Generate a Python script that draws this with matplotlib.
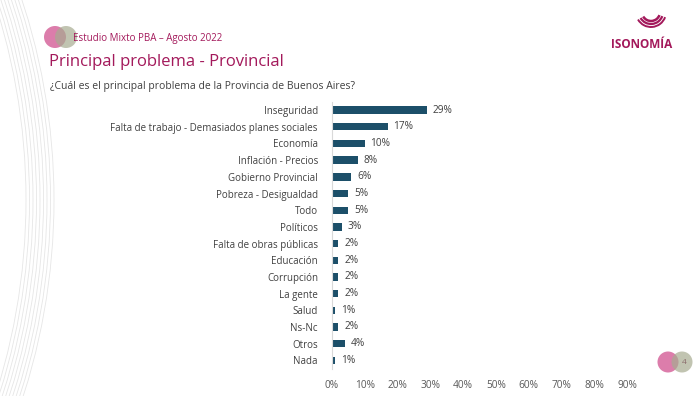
import matplotlib.pyplot as plt
from matplotlib.patches import Circle, Arc

categories = ["Inseguridad", "Falta de trabajo - Demasiados planes sociales", "Economía",
              "Inflación - Precios", "Gobierno Provincial", "Pobreza - Desigualdad", "Todo",
              "Políticos", "Falta de obras públicas", "Educación", "Corrupción", "La gente",
              "Salud", "Ns-Nc", "Otros", "Nada"]
values = [29, 17, 10, 8, 6, 5, 5, 3, 2, 2, 2, 2, 1, 2, 4, 1]
ticks = [0, 10, 20, 30, 40, 50, 60, 70, 80, 90]

magenta = "#a3195b"
bar_color = "#1c4f69"
plt.rcParams['font.family'] = ['Open Sans', 'DejaVu Sans']

fig = plt.figure(figsize=(7, 3.96), dpi=100)
ax = fig.add_axes([0.474, 0.069, 0.422, 0.674])

y = list(range(len(categories)))
ax.barh(y, values, height=0.44, color=bar_color)
for yi, v in zip(y, values):
    ax.text(v + 1.8, yi, f"{v}%", va="center", ha="left", fontsize=7.3, color="#404040")
ax.set_yticks(y)
ax.set_yticklabels(categories, fontsize=7, color="#404040")
ax.set_ylim(len(categories) - 0.5, -0.5)
ax.set_xlim(0, 90)
ax.set_xticks(ticks)
ax.set_xticklabels([f"{t}%" for t in ticks], fontsize=7.3, color="#595959")
ax.tick_params(axis="both", length=0)
ax.tick_params(axis="y", pad=10)
ax.tick_params(axis="x", pad=8)
for s in ["top", "right", "bottom"]:
    ax.spines[s].set_visible(False)
ax.spines["left"].set_color("#d9d9d9")
ax.spines["left"].set_linewidth(0.8)

# header and decoration, in pixel coordinates
W, H = 700, 396
def fx(px):
    return px / W
def fy(py):
    return 1 - py / H

deco = fig.add_axes([0, 0, 1, 1], zorder=-1)
deco.set_xlim(0, W)
deco.set_ylim(H, 0)
deco.axis("off")
# faint lines at the left edge
for i in range(9):
    deco.add_patch(Arc((-615 + i * 3.5, 200), 1282, 1282, theta1=-40, theta2=40,
                       color="#e6e6e6", lw=0.6))
deco.add_patch(Circle((55, 37), 11, color="#d6669c", alpha=0.85, lw=0))
deco.add_patch(Circle((66, 37), 11, color="#a7ab90", alpha=0.7, lw=0))
deco.add_patch(Circle((668, 362), 10.5, color="#d6669c", alpha=0.85, lw=0))
deco.add_patch(Circle((682, 362), 10.5, color="#a7ab90", alpha=0.7, lw=0))
deco.text(684, 362, "4", fontsize=6, color="#8a6a6a", ha="center", va="center")
for r, lw in [(9, 1.8), (12, 1.6), (15, 1.4)]:
    deco.add_patch(Arc((651, 12), 2 * r, 2 * r, theta1=20, theta2=150,
                       color=magenta, lw=lw))

fig.text(fx(73), fy(38), "Estudio Mixto PBA – Agosto 2022", fontsize=7,
         color=magenta, va="center")
fig.text(fx(49), fy(62), "Principal problema - Provincial", fontsize=12,
         color=magenta, va="center")
fig.text(fx(50), fy(86), "¿Cuál es el principal problema de la Provincia de Buenos Aires?",
         fontsize=7.5, color="#404040", va="center")
fig.text(fx(642), fy(45), "ISONOMÍA", fontsize=8.5, color=magenta,
         fontweight="bold", ha="center", va="center")

fig.savefig("out.png", dpi=100)
